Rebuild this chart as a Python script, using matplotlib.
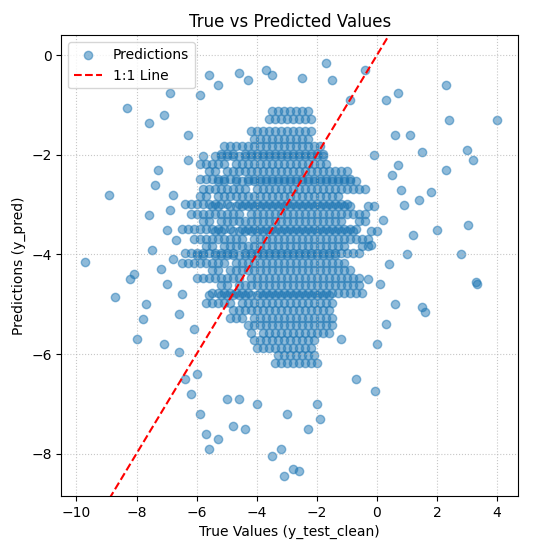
import matplotlib
matplotlib.use("Agg")
import matplotlib.pyplot as plt

# (true, predicted) points: outer points, then the dense core
outer_points = [(-9.7,-4.15),(-8.7,-4.85),(-8.9,-2.8),(-8.3,-1.05),(-8.2,-4.5),(-8.1,-4.4),(-8.0,-5.7),(-7.6,-1.35),
 (-7.1,-1.2),(-6.9,-0.75),(-6.3,-1.6),(-5.9,-0.8),(-5.6,-0.4),(-5.3,-0.6),(-4.6,-0.35),(-4.3,-0.5),(-3.7,-0.3),
 (-3.5,-0.4),(-2.5,-0.45),(-1.7,-0.15),(-1.5,-0.5),(-0.9,-0.9),(-0.4,-0.3),(0.3,-0.9),(0.7,-0.75),(1.1,-1.6),
 (2.3,-0.6),(2.4,-1.3),(3.0,-1.9),(4.0,-1.3),(3.2,-2.1),(2.3,-2.3),(1.8,-2.75),(1.5,-1.95),(2.8,-4.0),(3.3,-4.55),
 (3.35,-4.6),(2.0,-3.5),(3.05,-3.4),(1.5,-5.05),(1.6,-5.15),(0.6,-5.0),(-0.3,-4.5),(-0.05,-6.75),(-0.7,-6.5),
 (-1.2,-5.7),(-1.9,-7.3),(-2.3,-7.5),(-2.6,-8.35),(-2.8,-8.3),(-3.1,-8.45),(-3.2,-7.9),(-3.5,-8.05),(-4.4,-7.5),
 (-4.8,-7.45),(-5.3,-7.7),(-5.6,-7.9),(-5.7,-7.6),(-5.9,-7.2),(-6.2,-6.8),(-6.4,-6.5),(-6.6,-5.95),(-7.1,-5.8),
 (-7.7,-5.0),(-7.8,-5.3),(-4.0,-7.0),(-3.0,-7.2),(-2.0,-7.0),(-6.0,-6.4),(-5.0,-6.9),(-4.6,-6.9),
 (-7.3,-2.3),(-7.0,-3.5),(-6.8,-2.8),(-7.5,-3.9),(-7.2,-4.3),(-6.9,-3.1),(-6.5,-4.8),(-7.4,-2.6),(-6.7,-3.7),
 (-7.0,-4.6),(-6.3,-2.1),(-6.6,-5.2),(-7.6,-3.2),(-6.1,-5.5),(-6.8,-4.1),
 (0.5,-2.4),(0.2,-3.3),(0.9,-3.0),(0.4,-4.2),(-0.1,-2.0),(1.2,-3.6),(0.8,-2.7),(0.1,-4.6),(0.6,-1.6),(1.0,-4.0),
 (-0.2,-3.8),(0.3,-5.4),(1.4,-2.9),(0.7,-2.2),(0.0,-5.8)]

core_true = [-5.2,-4.8,-4.1,-3.6,-3.0,-2.4,-1.9,-1.4,-5.6,-4.5,-3.8,-3.2,-2.7,-2.1,-1.6,-1.0,
 -5.8,-5.0,-4.3,-3.4,-2.9,-2.2,-1.3,-0.6,-6.0,-5.4,-4.7,-4.0,-3.5,-2.8,-2.3,-1.7,-1.1,-0.5,
 -6.2,-5.5,-4.9,-4.2,-3.7,-3.1,-2.5,-1.8,-1.2,-0.3,-6.4,-5.7,-5.1,-4.4,-3.9,-3.3,-2.6,-2.0,-1.5,-0.8,-0.1]
core_rows = [-1.2,-1.6,-1.9,-2.1,-2.4,-2.6,-2.9,-3.1,-3.4,-3.6,-3.9,-4.1,-4.4,-4.7,-4.9,-5.2,-5.5,-5.8,-6.1]
core_shift = [0.6,0.3,0.0,-0.3,0.1,0.4,-0.2,0.2,-0.1,0.3,0.0,-0.3,0.2,0.5,-0.1,0.3,0.6,0.4,0.8]
core_width = [2,3,5,6,7,8,8,9,9,9,9,8,8,7,6,5,4,3,2]

# expand the core: each row keeps the central columns of core_true that fit its width
xs = [p[0] for p in outer_points]
ys = [p[1] for p in outer_points]
for yv, sh, w in zip(core_rows, core_shift, core_width):
    for xv in core_true:
        if abs(xv + 3.5) <= w * 0.36:
            xs.append(xv + sh)
            ys.append(yv + (0.08 if (xv * 10) % 2 else -0.08))

fig, ax = plt.subplots(figsize=(5.34, 5.45), dpi=100)
ax.scatter(xs, ys, alpha=0.5, color="#1f77b4", s=36, label="Predictions")
lims = [-10.5, 4.7]
ax.plot(lims, lims, "r--", label="1:1 Line")
ax.set_xlim(-10.5, 4.7)
ax.set_ylim(-8.85, 0.4)
ax.set_xlabel("True Values (y_test_clean)")
ax.set_ylabel("Predictions (y_pred)")
ax.set_title("True vs Predicted Values")
ax.grid(True, linestyle=":", alpha=0.7)
ax.legend(loc="upper left")
fig.subplots_adjust(left=0.115, right=0.97, top=0.935, bottom=0.09)
fig.savefig("out.png")
